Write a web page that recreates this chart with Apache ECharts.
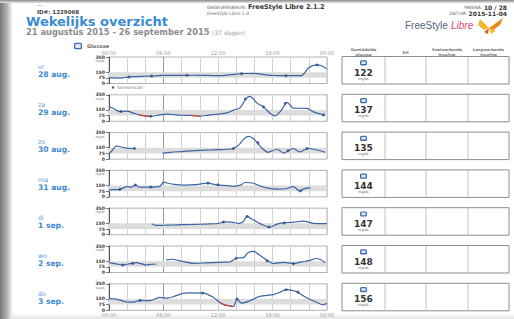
<!DOCTYPE html>
<html><head><meta charset="utf-8">
<script src="https://cdn.jsdelivr.net/npm/echarts@6/dist/echarts.min.js"></script>
<style>html,body{margin:0;padding:0;background:#fff}#c{width:514px;height:319px}</style>
</head><body><div id="c"></div>
<script>
// ---------- data ----------
const dayNames = ['vr','za','zo','ma','di','wo','do'];
const dayDates = ['28 aug.','29 aug.','30 aug.','31 aug.','1 sep.','2 sep.','3 sep.'];
const avgGlucose = [122,137,135,144,147,148,156];
const yTickValues = [0,75,150,350];
const timeLabels = ['00:00','06:00','12:00','18:00','00:00'];
const targetLow = 75, targetHigh = 150, lowLimit = 70;

const day1Hours   = [0,0.5,1,1.5,2,3,4,5,6,7,8,9,10,11,12,13,14,15,16,16.5,17.5,18.5,19.5,20.5,21.2,21.6,22,22.8,23.4,24];
const day1Glucose = [78,74,72,74,85,92,96,100,106,108,108,109,108,106,103,110,125,132,133,128,110,105,103,103,105,150,210,245,235,190];

const day2Hours   = [0,0.4,1.2,2,2.6,3.4,4.5,5.6,6.3,7,8,9,10,11,12,13,13.7,14.4,15.1,15.5,16.3,17,17.7,18.3,19,19.6,20.3,21.8,22.5,23.8];
const day2Glucose = [195,175,128,135,112,82,65,85,95,90,80,78,68,82,95,112,148,175,300,330,240,190,110,72,150,250,175,170,125,80];

const day3Hours   = [0,0.4,0.8,1.3,1.9,2.9,3.5,5.9,6.8,8,9,10,11,12,13,13.7,14.3,14.8,15.3,15.8,16.3,16.8,17.5,18.5,19.2,20.3,21,21.9,22.9,23.8];
const day3Glucose = [72,120,175,160,145,140,null,78,90,100,108,115,120,125,130,140,188,260,300,280,220,150,90,130,80,140,95,140,120,90];

const day4Hours   = [0,0.6,1.2,2,2.5,2.9,3.3,4.5,5.6,6,6.5,7.2,8.2,9,10,10.8,11.9,13,13.7,14.5,15,15.9,16.5,17.5,18.5,19.5,20.3,21,21.5,22.2];
const day4Glucose = [92,95,100,135,130,160,130,130,140,195,180,165,155,160,170,182,158,150,140,155,190,180,150,115,102,108,135,75,110,120];

const day5Hours   = [4.7,5.2,6,7,8,9,10,11,12,12.7,13.5,14.3,14.8,15.2,15.6,16,16.6,17.7,18.5,19.2,20.3,21.4,22.5,23.3,24];
const day5Glucose = [145,122,125,128,132,135,138,142,148,170,165,150,175,245,215,190,150,100,140,155,165,180,150,145,145];

const day6Hours   = [0,0.8,1.5,2.1,2.6,3,3.5,4.1,4.6,5.2,5.7,6.3,7,7.6,8.2,9.3,10.8,12.2,13.3,14,14.8,15.3,15.9,16.6,17.5,18.1,19.2,20.3,21.2,21.9,22.9,23.8];
const day6Glucose = [130,115,100,112,121,130,118,99,108,112,null,166,175,160,144,121,128,135,139,188,197,262,278,229,153,118,135,117,140,153,185,130];

const day7Hours   = [0,0.8,1.9,2.7,3.4,4.5,5.6,6.4,7.4,8.2,9,10.4,11.5,12.3,12.8,13.3,13.7,14.1,14.6,15.5,16.6,18.1,18.8,19.5,20.6,21.7,22.9,23.6,24];
const day7Glucose = [155,148,112,108,130,128,170,160,193,228,230,228,170,95,68,58,50,148,95,126,184,206,238,272,248,170,103,72,92];

const day1ScanHours = [2.2,4.7,8.6,14.6,19.5,22.9];   const day1ScanGlucose = [86,98,108,130,103,245];
const day2ScanHours = [1.3,4.6,15.0,17.0,19.4,23.6];  const day2ScanGlucose = [130,66,295,190,235,85];
const day3ScanHours = [2.8,13.7,16.4,19.7,21.8];      const day3ScanGlucose = [140,140,215,110,140];
const day4ScanHours = [1.2,2.9,4.6,10.9,12.0,21.1];   const day4ScanGlucose = [100,158,130,182,160,80];
const day5ScanHours = [12.6,15.2,17.6,19.3];          const day5ScanGlucose = [168,240,102,155];
const day6ScanHours = [1.5,2.6,14.0,17.4,20.3];       const day6ScanGlucose = [100,121,188,155,117];
const day7ScanHours = [3.4,10.3,14.1,19.5,20.8];      const day7ScanGlucose = [130,228,148,272,240];

const allHours = [day1Hours,day2Hours,day3Hours,day4Hours,day5Hours,day6Hours,day7Hours];
const allGlucose = [day1Glucose,day2Glucose,day3Glucose,day4Glucose,day5Glucose,day6Glucose,day7Glucose];
const allScanHours = [day1ScanHours,day2ScanHours,day3ScanHours,day4ScanHours,day5ScanHours,day6ScanHours,day7ScanHours];
const allScanGlucose = [day1ScanGlucose,day2ScanGlucose,day3ScanGlucose,day4ScanGlucose,day5ScanGlucose,day6ScanGlucose,day7ScanGlucose];

// ---------- layout ----------
const PL = 109, PW = 218, TOP0 = 57, STEP = 37.8, PH = 26.5;
const BOX_L = 342, BOX_R = 509, COLS = [342,385,426,468,509];
const FONT = 'DejaVu Sans';
const lineBlue = '#3c64a3', lowRed = '#d93a31';

const splitColors = Array.from({length:13}, (_,k)=> k===3 ? '#7d7d7d' : '#c6c6c6');
const grids=[], xAxes=[], yAxes=[], series=[], graphics=[];

for (let i=0;i<7;i++){
  const top = TOP0 + i*STEP;
  grids.push({left:PL, top:top, width:PW, height:PH, show:true, borderColor:'#a0a0a0', borderWidth:0.8, backgroundColor:'rgba(0,0,0,0)'});
  xAxes.push({gridIndex:i, type:'value', min:0, max:24, interval:2, position: i===0?'top':'bottom',
    axisLine:{show:false}, axisTick:{show:false},
    axisLabel:{show: i===0||i===6, showMinLabel:true, showMaxLabel:true, formatter:v=> v%6===0 ? timeLabels[v/6] : '',
      fontSize:5, color:'#9a9a9a', fontFamily:FONT, margin:2},
    splitLine:{show:true, lineStyle:{color:splitColors, width:0.8}}});
  yAxes.push({gridIndex:i, type:'value', min:0, max:350, interval:25,
    axisLine:{show:true, lineStyle:{color:'#555', width:1}},
    axisTick:{show:true, length:3, customValues:yTickValues, lineStyle:{color:'#555', width:0.8}},
    axisLabel:{formatter:v=> yTickValues.indexOf(v)>=0 ? String(v) : '', hideOverlap:false, showMinLabel:true, showMaxLabel:true,
      fontSize:4.6, fontWeight:'bold', color:'#3a3a3a', fontFamily:FONT, margin:4},
    splitLine:{show:false}});
  const g = allGlucose[i];
  const data = allHours[i].map((h,k)=>[h, g[k]===null ? '-' : g[k]]);
  series.push({type:'line', xAxisIndex:i, yAxisIndex:i, data:data, showSymbol:false, smooth:0.3,
    connectNulls:false, lineStyle:{width:1.2, color:lineBlue}, itemStyle:{color:lineBlue}, z:3, animation:false,
    markArea:{silent:true, itemStyle:{color:'#dcdcdc'}, data:[[{yAxis:targetLow},{yAxis:targetHigh}]]}});
  // readings below the low limit drawn in red
  const low = allHours[i].map((h,k)=>{
    const isLow = (g[k]!==null && g[k]<lowLimit) || (g[k+1]!==undefined && g[k+1]!==null && g[k+1]<lowLimit && g[k]!==null);
    return [h, isLow ? g[k] : '-'];
  });
  series.push({type:'line', xAxisIndex:i, yAxisIndex:i, data:low, showSymbol:false, smooth:0.3,
    connectNulls:false, lineStyle:{width:1.2, color:lowRed}, itemStyle:{color:lowRed}, z:4, animation:false});
  series.push({type:'scatter', xAxisIndex:i, yAxisIndex:i, symbolSize:3, z:5, animation:false,
    itemStyle:{color:'#2d4f8c'}, data: allScanHours[i].map((h,k)=>[h, allScanGlucose[i][k]])});
}

// page edges
graphics.push({type:'rect', shape:{x:0,y:0,width:12,height:319}, style:{fill:new echarts.graphic.LinearGradient(0,0,1,0,[{offset:0,color:'#767676'},{offset:0.6,color:'#b5b5b5'},{offset:1,color:'#f2f2f2'}])}, z:100});
graphics.push({type:'rect', shape:{x:0,y:0,width:514,height:3}, style:{fill:new echarts.graphic.LinearGradient(0,0,0,1,[{offset:0,color:'#8a8a8a'},{offset:1,color:'#e8e8e8'}])}, z:100});
graphics.push({type:'rect', shape:{x:0,y:313,width:514,height:6}, style:{fill:new echarts.graphic.LinearGradient(0,0,0,1,[{offset:0,color:'#ffffff'},{offset:1,color:'#e4e4e4'}])}, z:-1});

// header
const T = (text,x,y,font,fill,align,extra)=>graphics.push({type:'text', z:50, style:Object.assign({text, x, y, font, fill, textAlign:align||'left', textVerticalAlign:'middle'}, extra||{})});
T('—', 37, 5, '5px '+FONT, '#777');
T('ID#: 1229068', 37, 12, 'bold 5.5px '+FONT, '#444');
T('{s|GEGEVENSBRON:} {b|FreeStyle Libre 2.1.2}', 207, 7, '5px '+FONT, '#555', 'left',
  {rich:{s:{fontSize:4.5, fontFamily:FONT, fill:'#666'}, b:{fontSize:6.5, fontWeight:'bold', fontFamily:FONT, fill:'#333'}}});
T('FreeStyle Libre 1.0', 207, 13.5, '4.5px '+FONT, '#666');
T('{s|PAGINA:} {b|10 / 28}', 507, 7, '5px '+FONT, '#555', 'right',
  {rich:{s:{fontSize:4.5, fontFamily:FONT, fill:'#666'}, b:{fontSize:6, fontWeight:'bold', fontFamily:FONT, fill:'#333'}}});
T('{s|DATUM:} {b|2015-11-04}', 507, 13.5, '5px '+FONT, '#555', 'right',
  {rich:{s:{fontSize:4.5, fontFamily:FONT, fill:'#666'}, b:{fontSize:6, fontWeight:'bold', fontFamily:FONT, fill:'#333'}}});
T('Wekelijks overzicht', 26, 21, 'bold 13px '+FONT, '#3a8bd2');
T('{a|21 augustus 2015 - 26 september 2015} {b|(37 dagen)}', 26, 32, '8px '+FONT, '#8a8a8a', 'left',
  {rich:{a:{fontSize:8.3, fontWeight:'bold', fontFamily:FONT, fill:'#8c8c8c'}, b:{fontSize:6, fontFamily:FONT, fill:'#9a9a9a'}}});

// logo
T('FreeStyle', 405, 25, '10px "Liberation Sans"', '#56637f');
T('Libre', 451, 25, 'italic 10px "Liberation Sans"', '#e0457f');
graphics.push({type:'polygon', z:50, shape:{points:[[489,28],[480,19],[478,25],[484,30]]}, style:{fill:'#f3b52b'}});
graphics.push({type:'polygon', z:50, shape:{points:[[489,28],[503,18],[500,25],[492,31]]}, style:{fill:'#e98a1e'}});
graphics.push({type:'polygon', z:50, shape:{points:[[489,28],[484,32],[488,34]]}, style:{fill:'#c9641a'}});
graphics.push({type:'polygon', z:50, shape:{points:[[489,28],[496,31],[491,34]]}, style:{fill:'#f1c233'}});

// legend
const icon = (x,y,w,h)=>{
  graphics.push({type:'rect', z:50, shape:{x, y, width:w, height:h, r:1.5}, style:{fill:'#3d6db5'}});
  graphics.push({type:'rect', z:51, shape:{x:x+1.3, y:y+1.2, width:w-2.6, height:h-2.6, r:0.6}, style:{fill:'#dfe9f7'}});
};
icon(74,42.8,8,6.5);
T('Glucose', 87, 46, 'bold 5px '+FONT, '#666');
graphics.push({type:'circle', z:50, shape:{cx:113, cy:87.5, r:1.2}, style:{fill:'#2d4f8c'}});
T('Sensorscan', 117, 87.5, '4.5px '+FONT, '#777');

// table header
const hdr = [['Gemiddelde','glucose'],['KH',''],['Snelwerkende','insuline'],['Langwerkende','insuline']];
hdr.forEach((h,c)=>{
  const cx = (COLS[c]+COLS[c+1])/2;
  if (h[1]) { T(h[0], cx, 49.8, 'bold 3.8px '+FONT, '#777', 'center'); T(h[1], cx, 54.2, 'bold 3.8px '+FONT, '#777', 'center'); }
  else T(h[0], cx, 52, 'bold 3.8px '+FONT, '#777', 'center');
});

// day labels, mg/dL, boxes
for (let i=0;i<7;i++){
  const top = TOP0 + i*STEP;
  T(dayNames[i], 38, top+9.3, '6.3px '+FONT, '#5b9bd8');
  T(dayDates[i], 38, top+17.3, 'bold 7.6px '+FONT, '#3d89cf');
  T('mg/dL', PL-4, top+3.8, '3px '+FONT, '#666', 'right');
  graphics.push({type:'rect', z:40, shape:{x:BOX_L, y:top-0.5, width:BOX_R-BOX_L, height:PH+1}, style:{fill:'#fff', stroke:'#8d8d8d', lineWidth:1}});
  for (let c=1;c<4;c++) graphics.push({type:'line', z:41, shape:{x1:COLS[c], y1:top-0.5, x2:COLS[c], y2:top+PH+0.5}, style:{stroke:'#b0b0b0', lineWidth:0.8}});
  const cx = (COLS[0]+COLS[1])/2;
  icon(cx-3.5, top+3.2, 7, 5.2);
  T(String(avgGlucose[i]), cx, top+15.5, 'bold 9px '+FONT, '#333', 'center');
  T('mg/dL', cx, top+21.5, '3.5px '+FONT, '#666', 'center');
}

const chart = echarts.init(document.getElementById('c'), null, {renderer:'svg'});
chart.setOption({
  animation:false,
  backgroundColor:'#ffffff',
  grid:grids, xAxis:xAxes, yAxis:yAxes, series:series, graphic:graphics
});
</script></body></html>
